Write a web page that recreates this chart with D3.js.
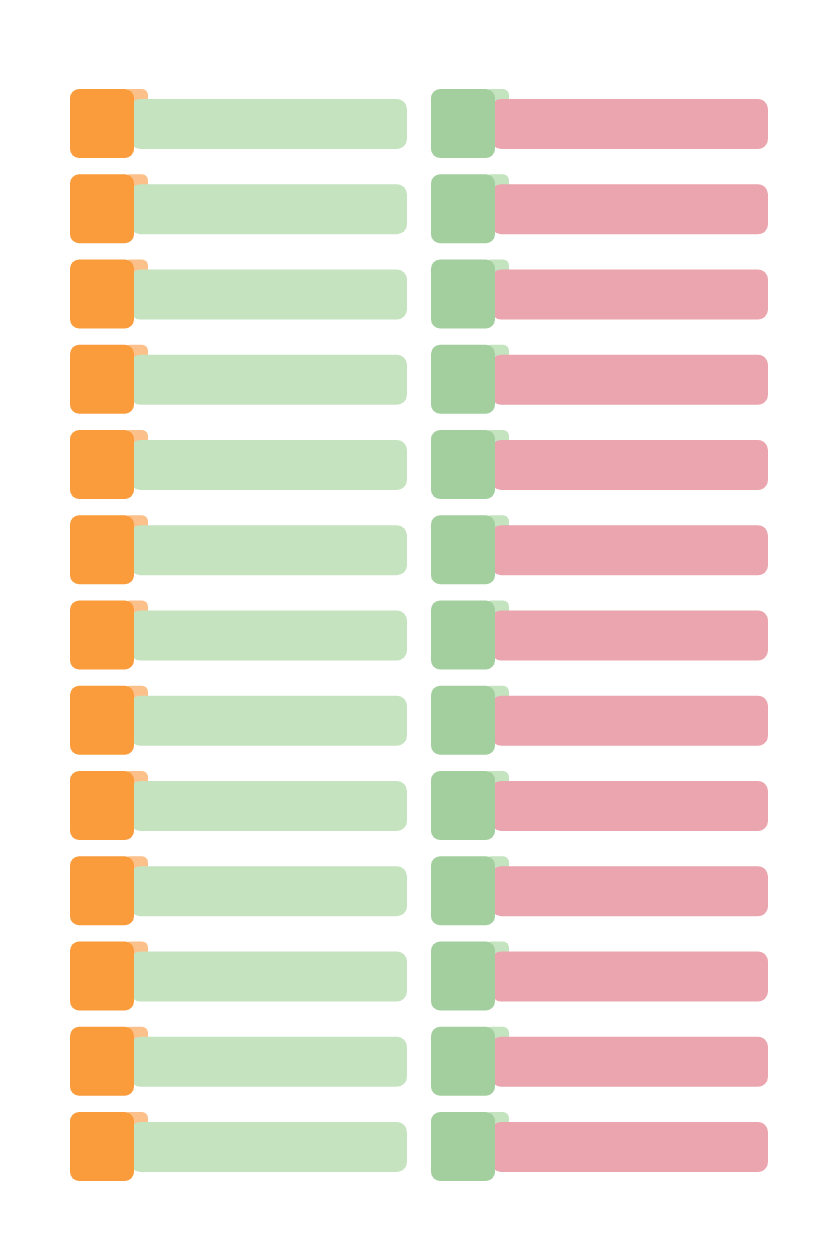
<!DOCTYPE html>
<html><head><meta charset="utf-8">
<script src="https://cdn.jsdelivr.net/npm/d3@7"></script>
<style>body{margin:0;background:#fff}</style></head>
<body><div id="vis"></div>
<script>
// rows per column, all bars full length
const rows = d3.range(1, 14)
const leftValues = rows.map(() => 100)
const rightValues = rows.map(() => 100)
const columns = [
  { key: 'left', values: leftValues, box: '#fa9c3c', tab: '#fcc08a', bar: '#c6e3c0' },
  { key: 'right', values: rightValues, box: '#a3cf9f', tab: '#c3e4bf', bar: '#eaa5ae' }
]

const W = 832, H = 1248
const svg = d3.select('#vis').append('svg').attr('width', W).attr('height', H)

const y = d3.scaleBand().domain(rows).range([89, 89 + 85.25 * 13]).paddingInner(0)
const colX = d3.scaleOrdinal().domain(['left', 'right']).range([70, 431])
const len = d3.scaleLinear().domain([0, 100]).range([0, 273])
const boxW = 64, boxH = 69

columns.forEach((c) => {
  const g = svg.append('g').attr('transform', 'translate(' + colX(c.key) + ',0)')
  const row = g.selectAll('g').data(c.values).enter().append('g')
    .attr('transform', (d, i) => 'translate(0,' + y(rows[i]) + ')')
  row.append('rect').attr('x', boxW - 10).attr('y', 0).attr('width', 24).attr('height', 30)
    .attr('rx', 6).attr('fill', c.tab)
  row.append('rect').attr('x', boxW - 4).attr('y', 10).attr('width', (d) => len(d) + 4).attr('height', 50)
    .attr('rx', 10).attr('fill', c.bar)
  row.append('rect').attr('x', 0).attr('y', 0).attr('width', boxW).attr('height', boxH)
    .attr('rx', 9).attr('fill', c.box)
})
</script></body></html>
